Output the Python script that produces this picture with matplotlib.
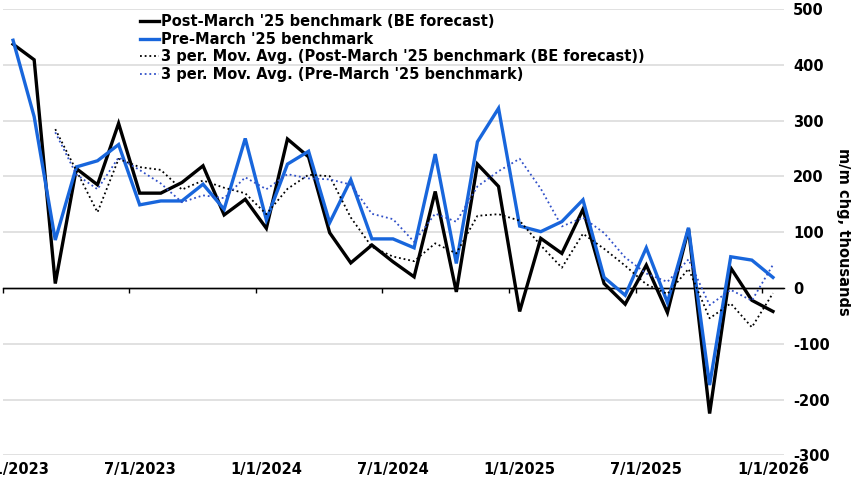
import matplotlib
matplotlib.use("Agg")
import matplotlib.pyplot as plt
import numpy as np
import pandas as pd

# ---- data (monthly, Jan 2023 .. Jan 2026) ----
months = pd.date_range("2023-01-01", "2026-01-01", freq="MS")
post_march = [437, 409, 8, 214, 185, 295, 170, 170, 189, 219, 131, 159,
              107, 267, 235, 99, 45, 77, 47, 20, 173, -7, 222, 182,
              -42, 89, 62, 141, 8, -29, 41, -44, 106, -225, 36, -22, -42]
pre_march = [444, 307, 86, 217, 228, 257, 149, 156, 156, 186, 141, 268,
             122, 222, 245, 117, 194, 88, 88, 72, 240, 44, 262, 322,
             111, 101, 119, 158, 19, -13, 72, -26, 108, -174, 56, 50, 19]
tick_labels = ["1/1/2023", "7/1/2023", "1/1/2024", "7/1/2024",
               "1/1/2025", "7/1/2025", "1/1/2026"]
yticks = [-300, -200, -100, 0, 100, 200, 300, 400, 500]

labels = ["Post-March '25 benchmark (BE forecast)",
          "Pre-March '25 benchmark",
          "3 per. Mov. Avg. (Post-March '25 benchmark (BE forecast))",
          "3 per. Mov. Avg. (Pre-March '25 benchmark)"]

# ---- derived ----
x = np.arange(len(months))
ma_post = pd.Series(post_march).rolling(3).mean()
ma_pre = pd.Series(pre_march).rolling(3).mean()

BLACK = "#000000"
BLUE = "#1866DC"
BLUE_MA = "#3050C8"
FS = 10.5

plt.rcParams["font.family"] = ["DejaVu Sans"]
plt.rcParams["font.weight"] = "bold"
plt.rcParams["axes.unicode_minus"] = False

W, H = 851, 479
fig = plt.figure(figsize=(W / 100, H / 100), dpi=100)
left, right, top, bottom = 2.5, 783.5, 9, 455.4
ax = fig.add_axes([left / W, 1 - bottom / H, (right - left) / W, (bottom - top) / H])

ymin, ymax = yticks[0], yticks[-1]
ax.set_ylim(ymin, ymax)
ax.set_xlim(-0.5, len(x) - 0.5)

# grid
ax.set_yticks(yticks)
ax.yaxis.grid(True, color="#d9d9d9", linewidth=1.1)
ax.set_axisbelow(True)
for s in ax.spines.values():
    s.set_visible(False)

ax.axhline(0, color="black", lw=1.0, zorder=2)

ax.plot(x, post_march, color=BLACK, lw=2.4, solid_joinstyle="miter", label=labels[0], zorder=3)
ax.plot(x, pre_march, color=BLUE, lw=2.4, solid_joinstyle="miter", label=labels[1], zorder=4)
ax.plot(x, ma_post, color=BLACK, lw=1.3, linestyle=(0, (1, 1.6)), label=labels[2], zorder=5)
ax.plot(x, ma_pre, color=BLUE_MA, lw=1.3, linestyle=(0, (1, 1.6)), label=labels[3], zorder=6)

# y axis on right
ax.yaxis.tick_right()
ax.tick_params(axis="y", length=0, pad=7, labelsize=FS)
ax.yaxis.set_label_position("right")
ax.set_ylabel("m/m chg, thousands", rotation=270, fontsize=FS, fontweight="bold",
              ha="center", va="center")
ax.yaxis.set_label_coords((843 - left) / (right - left), 0.5)

# x labels at bottom
major = x[::6]
ax.set_xticks(major)
ax.set_xticklabels(tick_labels)
ax.tick_params(axis="x", length=0, pad=4.5, labelsize=FS)

# zero axis line with boundary tick marks
zero_loc = (0 - ymin) / (ymax - ymin)
sec = ax.secondary_xaxis(zero_loc)
sec.set_xticks(major - 0.5)
sec.set_xticklabels([""] * len(major))
sec.spines["bottom"].set_color("black")
sec.spines["bottom"].set_linewidth(1.0)
sec.tick_params(axis="x", direction="out", length=3.8, width=1.0, color="black")

leg = ax.legend(loc="upper left", bbox_to_anchor=(140 / W, 1 - 14 / H),
                bbox_transform=fig.transFigure, frameon=False,
                fontsize=FS, handlelength=1.3, handletextpad=0.15,
                labelspacing=0.18, borderpad=0, borderaxespad=0)
for t in leg.get_texts():
    t.set_fontweight("bold")

fig.savefig("out.png", dpi=100)
